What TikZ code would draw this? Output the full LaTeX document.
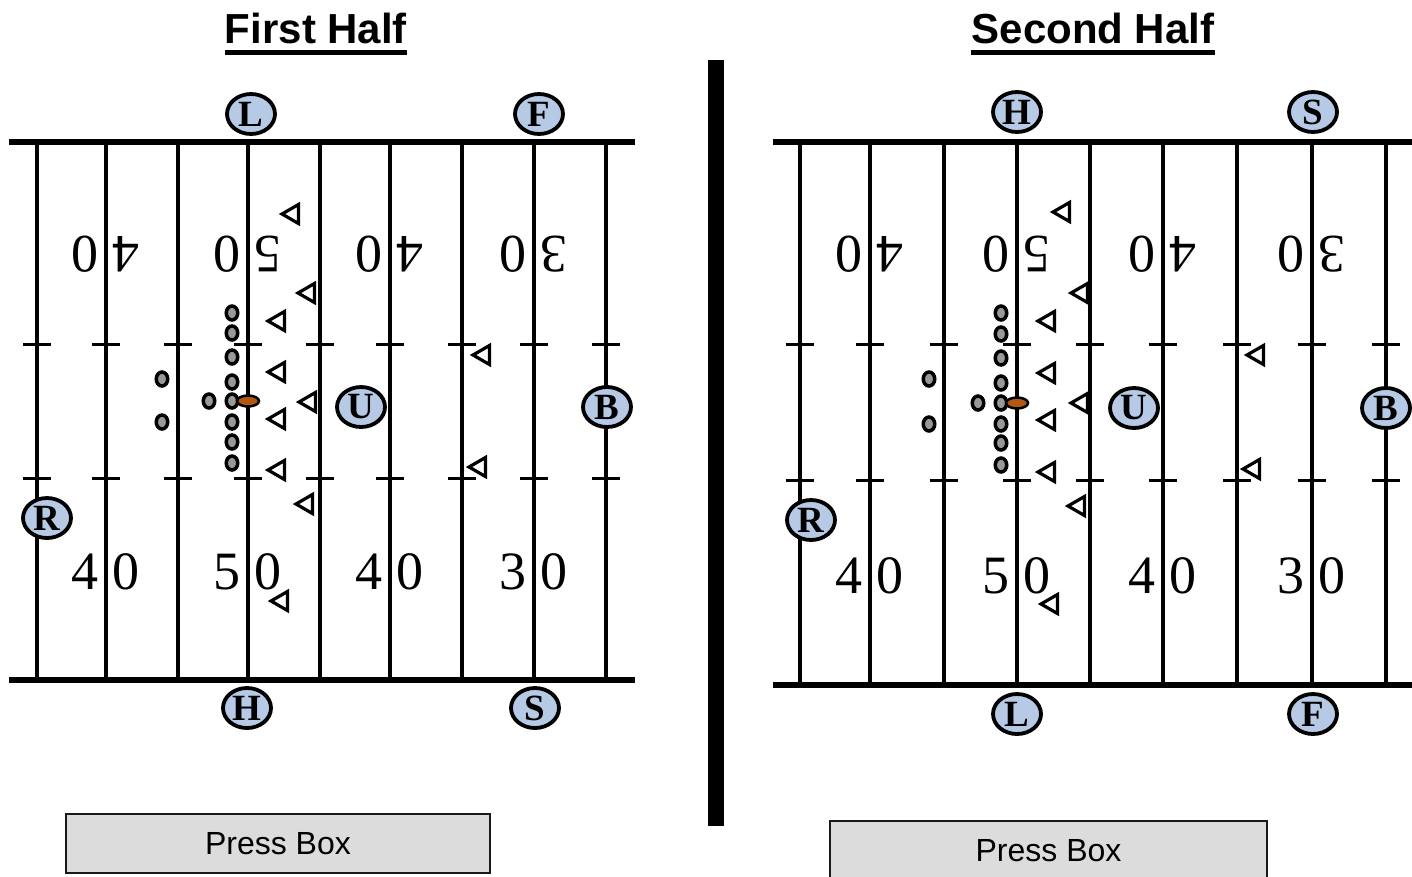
\documentclass[tikz,border=0pt]{standalone}
\usepackage{fontspec}
\setmainfont{Liberation Serif}
\newfontfamily\headfont{Liberation Sans}
\usetikzlibrary{shapes.geometric}
\definecolor{offblue}{RGB}{182,202,229}
\definecolor{ballbrown}{RGB}{178,88,18}
\definecolor{boxgray}{RGB}{220,220,220}
\tikzset{
  official/.style={ellipse,draw,line width=3.8pt,fill=offblue,minimum width=48pt,minimum height=40pt,inner sep=0pt,font=\fontsize{37}{37}\selectfont\bfseries},
  lineman/.style={ellipse,draw,line width=3.5pt,fill=gray!80,minimum width=11.5pt,minimum height=14pt,inner sep=0pt},
  ball/.style={ellipse,draw,line width=2.5pt,fill=ballbrown,minimum width=22pt,minimum height=11pt,inner sep=0pt},
  defender/.style={regular polygon,regular polygon sides=3,shape border rotate=90,draw,line width=3.2pt,fill=white,minimum size=22pt,inner sep=0pt},
  yardnum/.style={inner sep=0pt,font=\fontsize{54}{54}\selectfont},
  halftitle/.style={anchor=base,inner sep=0pt,font=\headfont\fontsize{42}{42}\selectfont\bfseries},
  pressbox/.style={draw=black!90,line width=2.5pt,fill=boxgray,inner sep=0pt,font=\headfont\fontsize{32}{32}\selectfont},
  sideline/.style={line width=5.5pt},
  yardline/.style={line width=3.8pt},
  hashline/.style={line width=3pt}
}

\begin{document}
\begin{tikzpicture}[x=1pt,y=-1pt]
      \useasboundingbox (0,0) rectangle (1412,876);

      \node[halftitle] (t1) at (316,43) {First Half};
      \node[halftitle] (t2) at (1093,43) {Second Half};
      \draw[line width=4.5pt] ([yshift=-9.5pt]t1.base west) -- ([yshift=-9.5pt]t1.base east);
      \draw[line width=4.5pt] ([yshift=-9.5pt]t2.base west) -- ([yshift=-9.5pt]t2.base east);

      \fill (708,60) rectangle (724,826);

      % first half field
      \foreach \x in {37,106,178,248,320,390,462,534,606} {
        \draw[yardline] (\x,142) -- (\x,680);
        \draw[hashline] (\x-14,344) -- (\x+14,344);
        \draw[hashline] (\x-14,478) -- (\x+14,478);
      }
      \draw[sideline] (9,142) -- (635,142);
      \draw[sideline] (9,680) -- (635,680);
      \foreach \x/\d in {106/4,248/5,390/4,534/3} {
        \node[yardnum] (fa\x) at (\x-21,572) {\d};
        \node[yardnum] (fb\x) at (\x+20,572) {0};
        \node[yardnum,rotate=180] (fc\x) at (\x+20,254) {\d};
        \node[yardnum,rotate=180] (fd\x) at (\x-21,254) {0};
      }

      % second half field
      \foreach \x in {800,870,944,1017,1090,1163,1237,1312,1386} {
        \draw[yardline] (\x,142) -- (\x,685);
        \draw[hashline] (\x-14,344) -- (\x+14,344);
        \draw[hashline] (\x-14,480) -- (\x+14,480);
      }
      \draw[sideline] (773,142) -- (1412,142);
      \draw[sideline] (773,685) -- (1412,685);
      \foreach \x/\d in {870/4,1017/5,1163/4,1312/3} {
        \node[yardnum] (sa\x) at (\x-21,576) {\d};
        \node[yardnum] (sb\x) at (\x+20,576) {0};
        \node[yardnum,rotate=180] (sc\x) at (\x+20,254) {\d};
        \node[yardnum,rotate=180] (sd\x) at (\x-21,254) {0};
      }

      % players
      \foreach \y in {313,333,357,382,401,422,442,463}
        \node[lineman] (fo\y) at (232,\y) {};
      \node[lineman] (fqb) at (209,401) {};
      \node[lineman] (fb1) at (162,379) {};
      \node[lineman] (fb2) at (162,422) {};
      \node[ball] (fball) at (248,401) {};
      \foreach \x/\y [count=\i] in {291/214,307/293,277/321,277/372,308/402,277/419,277/470,305/504,280/601,482/355,478/467}
        \node[defender] (fd\i) at (\x+2,\y) {};

      \foreach \y in {313,334,358,383,403,424,443,465}
        \node[lineman] (so\y) at (1001,\y) {};
      \node[lineman] (sqb) at (978,403) {};
      \node[lineman] (sb1) at (929,379) {};
      \node[lineman] (sb2) at (929,424) {};
      \node[ball] (sball) at (1017,403) {};
      \foreach \x/\y [count=\i] in {1062/212,1080/293,1047/321,1047/373,1080/403,1047/420,1047/472,1077/506,1050/604,1256/355,1252/469}
        \node[defender] (sd\i) at (\x+2,\y) {};

      % officials
      \node[official] (fL) at (251,114) {L};
      \node[official] (fF) at (539,114) {F};
      \node[official] (fH) at (247,708) {H};
      \node[official] (fS) at (535,708) {S};
      \node[official] (fR) at (47,518) {R};
      \node[official] (fU) at (361,407) {U};
      \node[official] (fB) at (607,407) {B};

      \node[official] (sH) at (1017,112) {H};
      \node[official] (sS) at (1313,112) {S};
      \node[official] (sL) at (1017,714) {L};
      \node[official] (sF) at (1313,714) {F};
      \node[official] (sR) at (811,520) {R};
      \node[official] (sU) at (1134,408) {U};
      \node[official] (sB) at (1386,408) {B};

      \node[pressbox,minimum width=424pt,minimum height=59pt] (pb1) at (278,843.5) {Press Box};
      \node[pressbox,minimum width=437pt,minimum height=59pt] (pb2) at (1048.5,850.5) {Press Box};
    \end{tikzpicture}
\end{document}
